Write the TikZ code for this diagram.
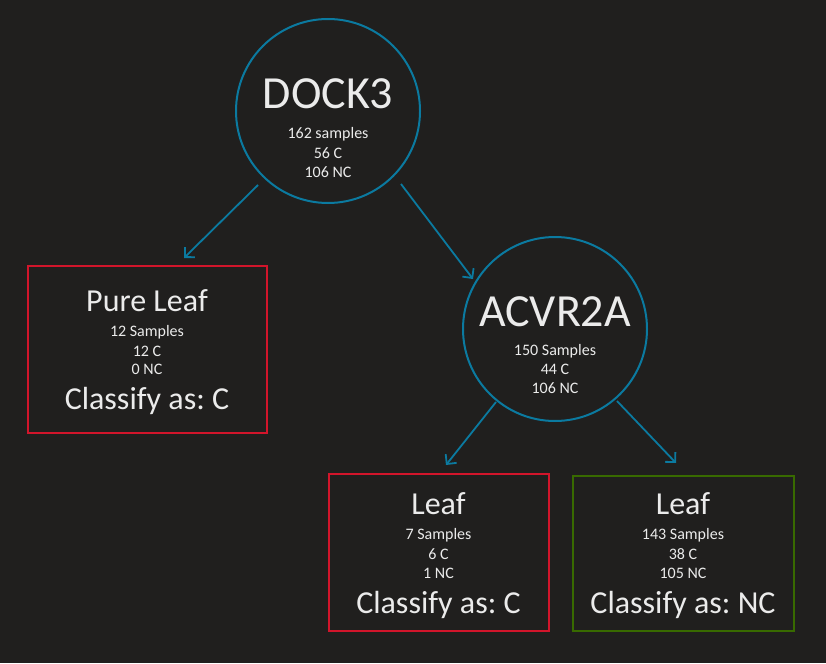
\documentclass[tikz,border=0pt]{standalone}
\usepackage{fontspec}
\setmainfont{Carlito}
\frenchspacing
\usetikzlibrary{arrows.meta}
\definecolor{bg}{HTML}{201F1E}
\definecolor{txt}{HTML}{EBEBEB}
\definecolor{lineblue}{HTML}{0B7AA0}
\definecolor{boxred}{HTML}{D2152B}
\definecolor{boxgreen}{HTML}{386A00}
\tikzset{
  circnode/.style={circle, draw=lineblue, line width=2pt, minimum size=184pt, inner sep=0pt},
  boxnode/.style={rectangle, draw=#1, line width=2pt, inner sep=0pt},
  bigtitle/.style={text=txt, anchor=base, inner sep=0pt, font=\fontsize{46}{50}\selectfont},
  midtitle/.style={text=txt, anchor=base, inner sep=0pt, font=\fontsize{32}{36}\selectfont},
  small/.style={text=txt, anchor=base, inner sep=0pt, font=\fontsize{16}{19}\selectfont},
  arr/.style={draw=lineblue, line width=1.8pt, -{Straight Barb[length=7pt,width=14pt,line width=1.8pt]}}
}
\begin{document}
\begin{tikzpicture}[x=1pt,y=-1pt]
\fill[bg] (0,0) rectangle (826,663);
\useasboundingbox (0,0) rectangle (826,663);

% DOCK3
\node[circnode] (dock) at (328,111) {};
\node[bigtitle] (dockt) at (328,109) {DOCK3};
\node[small] (docka) at (328,139) {162 samples};
\node[small] (dockb) at (328,158) {56 C};
\node[small] (dockc) at (328,178) {106 NC};

% ACVR2A
\node[circnode] (acvr) at (555,329) {};
\node[bigtitle] (acvrt) at (555,326) {ACVR2A};
\node[small] (acvra) at (555,355) {150 Samples};
\node[small] (acvrb) at (555,374) {44 C};
\node[small] (acvrc) at (555,393) {106 NC};

% Pure Leaf
\node[boxnode=boxred, minimum width=239pt, minimum height=167pt] (pure) at (147,349) {};
\node[midtitle] (puret) at (147,311) {Pure Leaf};
\node[small] (purea) at (147,336) {12 Samples};
\node[small] (pureb) at (147,356) {12 C};
\node[small] (purec) at (147,374) {0 NC};
\node[midtitle] (pured) at (147,409) {Classify as: C};

% Leaf red
\node[boxnode=boxred, minimum width=220pt, minimum height=157pt] (leafc) at (438.5,552) {};
\node[midtitle] (leafct) at (438.5,514) {Leaf};
\node[small] (leafca) at (438.5,539) {7 Samples};
\node[small] (leafcb) at (438.5,559) {6 C};
\node[small] (leafcc) at (438.5,578) {1 NC};
\node[midtitle] (leafcd) at (438.5,613) {Classify as: C};

% Leaf green
\node[boxnode=boxgreen, minimum width=221pt, minimum height=155pt] (leafn) at (683,553) {};
\node[midtitle] (leafnt) at (683,514) {Leaf};
\node[small] (leafna) at (683,539) {143 Samples};
\node[small] (leafnb) at (683,559) {38 C};
\node[small] (leafnc) at (683,578) {105 NC};
\node[midtitle] (leafnd) at (683,613) {Classify as: NC};

% connector ends
\coordinate (s1) at (258,185);
\coordinate (e1) at (184,258);
\coordinate (s2) at (401,184);
\coordinate (e2) at (473,279);
\coordinate (s3) at (496,402);
\coordinate (e3) at (446,465);
\coordinate (s4) at (617,401);
\coordinate (e4) at (676,463);

\draw[arr] (s1) -- (e1);
\draw[arr] (s2) -- (e2);
\draw[arr] (s3) -- (e3);
\draw[arr] (s4) -- (e4);
\end{tikzpicture}
\end{document}
